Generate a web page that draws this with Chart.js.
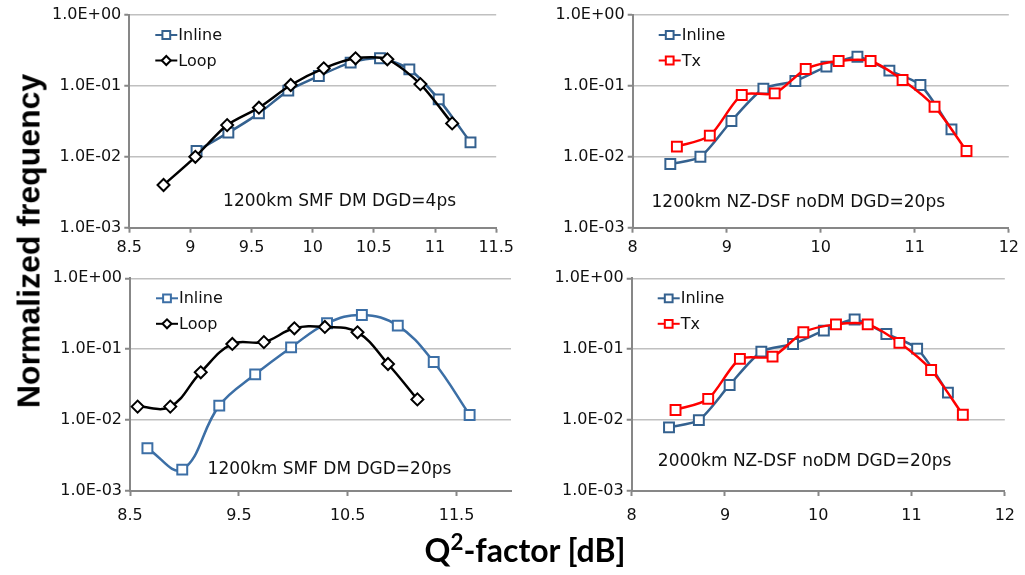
<!DOCTYPE html>
<html>
<head>
<meta charset="utf-8">
<script src="https://cdn.jsdelivr.net/npm/chart.js@4.4.0/dist/chart.umd.min.js"></script>
<style>
  body { margin: 0; background: #fff; width: 1025px; height: 575px; position: relative; overflow: hidden; }
  canvas { position: absolute; }
  .title { position: absolute; white-space: nowrap; color: #000; transform-origin: center; }
  #yTitle { left: 29px; top: 241px; transform: translate(-50%, -50%) rotate(-90deg); font: bold 32px "Liberation Sans", Arial, sans-serif; }
  #xTitle { left: 525px; top: 549px; transform: translate(-50%, -50%); font: bold 32px Lato, "Open Sans", sans-serif; }
  #xTitle sup { font-size: 70%; line-height: 0; }
</style>
</head>
<body>
<canvas id="c1" width="480" height="265" style="left:40px;top:0px"></canvas>
<canvas id="c2" width="495" height="265" style="left:530px;top:0px"></canvas>
<canvas id="c3" width="480" height="270" style="left:40px;top:265px"></canvas>
<canvas id="c4" width="495" height="270" style="left:530px;top:265px"></canvas>
<div class="title" id="yTitle">Normalized frequency</div>
<div class="title" id="xTitle">Q<sup>2</sup>-factor [dB]</div>
<script>
// shared y axis (log)
const yTickValues = [0.001, 0.01, 0.1, 1];
const yTickLabels = ['1.0E-03', '1.0E-02', '1.0E-01', '1.0E+00'];

// panel 1: 1200km SMF DM DGD=4ps
const p1Ticks = [8.5, 9, 9.5, 10, 10.5, 11, 11.5];
const p1InlineQ = [9.05, 9.31, 9.56, 9.80, 10.05, 10.31, 10.55, 10.79, 11.03, 11.29];
const p1InlineFreq = [0.0121, 0.0219, 0.041, 0.0857, 0.138, 0.213, 0.245, 0.171, 0.0646, 0.016];
const p1LoopQ = [8.78, 9.04, 9.30, 9.56, 9.82, 10.09, 10.35, 10.61, 10.88, 11.14];
const p1LoopFreq = [0.004, 0.01, 0.028, 0.0493, 0.103, 0.177, 0.245, 0.237, 0.106, 0.0296];

// panel 2: 1200km NZ-DSF noDM DGD=20ps
const p2Ticks = [8, 9, 10, 11, 12];
const p2InlineQ = [8.40, 8.72, 9.05, 9.39, 9.73, 10.06, 10.39, 10.73, 11.06, 11.39];
const p2InlineFreq = [0.0079, 0.01, 0.032, 0.0914, 0.117, 0.187, 0.258, 0.164, 0.103, 0.0244];
const p2TxQ = [8.47, 8.82, 9.16, 9.51, 9.84, 10.19, 10.53, 10.87, 11.21, 11.55];
const p2TxFreq = [0.0139, 0.0199, 0.0744, 0.0785, 0.173, 0.224, 0.224, 0.121, 0.0509, 0.0121];

// panel 3: 1200km SMF DM DGD=20ps
const p3Ticks = [8.5, 9.5, 10.5, 11.5];
const p3InlineQ = [8.66, 8.98, 9.32, 9.65, 9.98, 10.31, 10.63, 10.96, 11.29, 11.62];
const p3InlineFreq = [0.004, 0.002, 0.016, 0.0442, 0.106, 0.232, 0.304, 0.215, 0.066, 0.0118];
const p3LoopQ = [8.57, 8.87, 9.15, 9.44, 9.73, 10.01, 10.29, 10.59, 10.87, 11.14];
const p3LoopFreq = [0.0155, 0.0155, 0.0472, 0.1186, 0.126, 0.197, 0.206, 0.173, 0.0619, 0.0196];

// panel 4: 2000km NZ-DSF noDM DGD=20ps
const p4Ticks = [8, 9, 10, 11, 12];
const p4InlineQ = [8.40, 8.72, 9.05, 9.39, 9.73, 10.06, 10.39, 10.73, 11.06, 11.39];
const p4InlineFreq = [0.0079, 0.01, 0.0313, 0.0924, 0.1185, 0.183, 0.262, 0.164, 0.102, 0.0244];
const p4TxQ = [8.47, 8.82, 9.16, 9.51, 9.84, 10.19, 10.53, 10.87, 11.21, 11.55];
const p4TxFreq = [0.0139, 0.0199, 0.073, 0.0785, 0.173, 0.224, 0.224, 0.123, 0.0509, 0.0119];

const BLUE = '#34618f';
const BLUE3 = '#3c6fa6';
const RED = '#ff0000';
const AXIS = '#878787';
const GRID = '#c0c0c0';
const TICK_FONT = { family: '"DejaVu Sans", Verdana, sans-serif', size: 16 };

function points(xs, ys) {
    return xs.map((x, i) => ({ x: x, y: ys[i] }));
}

function markerPath(ctx, style, x, y, r) {
    ctx.beginPath();
    if (style === 'rectRot') {
        ctx.moveTo(x - r, y);
        ctx.lineTo(x, y - r);
        ctx.lineTo(x + r, y);
        ctx.lineTo(x, y + r);
        ctx.closePath();
    } else {
        const s = r * Math.SQRT1_2;
        ctx.rect(x - s, y - s, 2 * s, 2 * s);
    }
}

// legend drawn inside the plot, Excel style (line + marker + label)
const insetLegend = {
    id: 'insetLegend',
    afterDraw(chart, args, opts) {
        const ctx = chart.ctx;
        const area = chart.chartArea;
        ctx.save();
        ctx.font = '16px "DejaVu Sans", Verdana, sans-serif';
        ctx.textBaseline = 'middle';
        chart.data.datasets.forEach((ds, i) => {
            const x = area.left + 26;
            const y = area.top + 20 + i * 25.5;
            ctx.strokeStyle = ds.borderColor;
            ctx.lineWidth = 2;
            ctx.beginPath();
            ctx.moveTo(x, y);
            ctx.lineTo(x + 22, y);
            ctx.stroke();
            markerPath(ctx, ds.pointStyle, x + 11, y, ds.pointStyle === 'rectRot' ? 4.5 : 5.5);
            ctx.fillStyle = '#fff';
            ctx.fill();
            ctx.stroke();
            ctx.fillStyle = '#111';
            ctx.fillText(ds.label, x + 23, y + 1);
        });
        ctx.restore();
    }
};

// caption text placed in data coordinates
const panelNote = {
    id: 'panelNote',
    afterDraw(chart, args, opts) {
        const ctx = chart.ctx;
        const x = chart.scales.x.getPixelForValue(opts.x);
        const y = chart.scales.y.getPixelForValue(opts.y);
        ctx.save();
        ctx.font = '17px "DejaVu Sans", Verdana, sans-serif';
        ctx.fillStyle = '#111';
        ctx.textBaseline = 'middle';
        ctx.fillText(opts.text, x, y);
        ctx.restore();
    }
};

function makeDataset(label, xs, ys, color, style, tension, order) {
    return {
        label: label,
        data: points(xs, ys),
        borderColor: color,
        backgroundColor: '#fff',
        borderWidth: 2.5,
        pointStyle: style,
        pointRadius: style === 'rectRot' ? 6 : 7,
        pointBorderWidth: 2,
        pointBackgroundColor: '#fff',
        pointBorderColor: color,
        tension: tension,
        order: order
    };
}

function makeChart(id, cfg) {
    const canvas = document.getElementById(id);
    const cLeft = parseFloat(canvas.style.left);
    const cTop = parseFloat(canvas.style.top);
    const area = cfg.area;
    return new Chart(canvas, {
        type: 'line',
        data: { datasets: cfg.datasets },
        options: {
            responsive: false,
            animation: false,
            layout: {
                padding: { left: 0, top: area.top - cTop, right: cLeft + canvas.width - area.right, bottom: 0 }
            },
            plugins: {
                legend: { display: false },
                tooltip: { enabled: false },
                panelNote: cfg.note
            },
            scales: {
                x: {
                    type: 'linear',
                    min: cfg.xTicks[0],
                    max: cfg.xMax,
                    afterBuildTicks: scale => { scale.ticks = cfg.xTicks.map(v => ({ value: v })); },
                    afterFit: scale => { scale.height = cTop + canvas.height - area.bottom; },
                    ticks: { autoSkip: false, maxRotation: 0, color: '#111', font: TICK_FONT, padding: cfg.xPad, callback: v => String(v) },
                    grid: { drawOnChartArea: false, drawTicks: true, tickLength: 5, tickColor: AXIS, tickWidth: 2 },
                    border: { color: AXIS, width: 2 }
                },
                y: {
                    type: 'logarithmic',
                    min: yTickValues[0],
                    max: yTickValues[yTickValues.length - 1],
                    afterBuildTicks: scale => { scale.ticks = yTickValues.map(v => ({ value: v })); },
                    afterFit: scale => { scale.width = area.left - cLeft; },
                    ticks: { autoSkip: false, color: '#111', font: TICK_FONT, padding: 3, callback: (v, i) => yTickLabels[i] },
                    grid: { color: GRID, lineWidth: 1.5, drawTicks: true, tickLength: 5, tickColor: AXIS, tickWidth: 2 },
                    border: { color: AXIS, width: 2 }
                }
            }
        },
        plugins: [insetLegend, panelNote]
    });
}

makeChart('c1', {
    area: { left: 129.3, top: 15, right: 503.3, bottom: 227.7 },
    xTicks: p1Ticks, xMax: 11.5, xPad: 6,
    note: { text: '1200km SMF DM DGD=4ps', x: 9.267, y: 0.00233 },
    datasets: [
        makeDataset('Inline', p1InlineQ, p1InlineFreq, BLUE, 'rect', 0.25, 2),
        makeDataset('Loop', p1LoopQ, p1LoopFreq, '#000', 'rectRot', 0.25, 1)
    ]
});

makeChart('c2', {
    area: { left: 632.7, top: 15, right: 1009, bottom: 227.7 },
    xTicks: p2Ticks, xMax: 12, xPad: 6,
    note: { text: '1200km NZ-DSF noDM DGD=20ps', x: 8.2, y: 0.00223 },
    datasets: [
        makeDataset('Inline', p2InlineQ, p2InlineFreq, BLUE, 'rect', 0.25, 2),
        makeDataset('Tx', p2TxQ, p2TxFreq, RED, 'rect', 0.25, 1)
    ]
});

makeChart('c3', {
    area: { left: 130, top: 278.3, right: 511.7, bottom: 491 },
    xTicks: p3Ticks, xMax: 12, xPad: 10,
    note: { text: '1200km SMF DM DGD=20ps', x: 9.213, y: 0.00198 },
    datasets: [
        makeDataset('Inline', p3InlineQ, p3InlineFreq, BLUE3, 'rect', 0.4, 2),
        makeDataset('Loop', p3LoopQ, p3LoopFreq, '#000', 'rectRot', 0.4, 1)
    ]
});

makeChart('c4', {
    area: { left: 631.7, top: 278.3, right: 1009, bottom: 491 },
    xTicks: p4Ticks, xMax: 12, xPad: 10,
    note: { text: '2000km NZ-DSF noDM DGD=20ps', x: 8.28, y: 0.00259 },
    datasets: [
        makeDataset('Inline', p4InlineQ, p4InlineFreq, BLUE, 'rect', 0.25, 2),
        makeDataset('Tx', p4TxQ, p4TxFreq, RED, 'rect', 0.25, 1)
    ]
});
</script>
</body>
</html>
